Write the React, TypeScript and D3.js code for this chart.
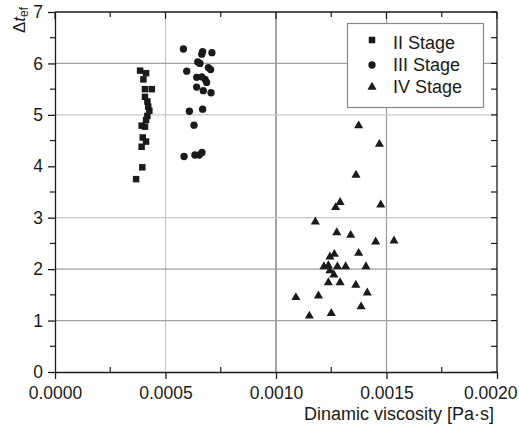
import React, { useEffect, useRef } from "react";
import * as d3 from "d3";

// II Stage (squares): [viscosity Pa·s, delta t_ef]
const stage2 = [
  [0.000385, 5.86], [0.000412, 5.81], [0.0004, 5.69], [0.000407, 5.5], [0.000438, 5.5],
  [0.000407, 5.35], [0.000418, 5.26], [0.000422, 5.16], [0.000427, 5.08], [0.000418, 4.98],
  [0.000412, 4.9], [0.000392, 4.79], [0.000407, 4.77], [0.000397, 4.56], [0.000412, 4.48],
  [0.000392, 4.38], [0.000395, 3.98], [0.000367, 3.75],
];

// III Stage (circles)
const stage3 = [
  [0.000581, 6.28], [0.000668, 6.23], [0.000664, 6.18], [0.00071, 6.21], [0.000646, 6.03],
  [0.000656, 6.0], [0.000596, 5.85], [0.000694, 5.92], [0.000704, 5.88], [0.000641, 5.73],
  [0.000664, 5.74], [0.000679, 5.69], [0.000686, 5.63], [0.000641, 5.54], [0.000671, 5.47],
  [0.000706, 5.43], [0.000608, 5.07], [0.000668, 5.11], [0.000629, 4.8], [0.000584, 4.19],
  [0.000633, 4.22], [0.000653, 4.22], [0.000665, 4.27],
];

// IV Stage (triangles)
const stage4 = [
  [0.001374, 4.79], [0.001468, 4.43], [0.001362, 3.83], [0.00129, 3.3], [0.00127, 3.2],
  [0.001474, 3.25], [0.001178, 2.92], [0.001275, 2.71], [0.001338, 2.66], [0.001451, 2.53],
  [0.001534, 2.55], [0.001264, 2.29], [0.001244, 2.24], [0.001374, 2.31], [0.001217, 2.05],
  [0.001237, 2.07], [0.001278, 2.05], [0.001315, 2.05], [0.001407, 2.05], [0.001244, 1.97],
  [0.001262, 1.89], [0.001237, 1.74], [0.00129, 1.74], [0.001361, 1.69], [0.001413, 1.54],
  [0.00109, 1.45], [0.001192, 1.48], [0.001385, 1.27], [0.001151, 1.09], [0.00125, 1.14],
];

const seriesNames = ["II Stage", "III Stage", "IV Stage"];

const xTicks = [0, 0.0005, 0.001, 0.0015, 0.002];
const xMinorTicks = [0.00025, 0.00075, 0.00125, 0.00175];
const yTicks = [0, 1, 2, 3, 4, 5, 6, 7];
const yMinorTicks = [0.5, 1.5, 2.5, 3.5, 4.5, 5.5, 6.5];

// grid lines visible in the picture
const xGrid = [0.0005, 0.001, 0.0015];
const yGrid = [1, 2, 3, 5, 6];

export default function App() {
  const ref = useRef<SVGSVGElement>(null);

  useEffect(() => {
    const svg = d3.select(ref.current);
    svg.selectAll("*").remove();

    const W = 519, H = 428;
    const left = 55, right = 497, top = 12, bottom = 372;

    const x = d3.scaleLinear().domain([0, 0.002]).range([left, right]);
    const y = d3.scaleLinear().domain([0, 7]).range([bottom, top]);

    svg.attr("width", W).attr("height", H);
    svg.append("rect").attr("width", W).attr("height", H).attr("fill", "#fff");

    const font = "'Liberation Sans', Arial, sans-serif";
    const ink = "#1a1a1a";

    // grid
    const xGridColor: Record<string, string> = { "0.0005": "#c8c8c8", "0.001": "#666", "0.0015": "#9a9a9a" };
    svg.append("g").selectAll("line").data(xGrid).join("line")
      .attr("x1", d => x(d)).attr("x2", d => x(d))
      .attr("y1", top).attr("y2", bottom)
      .attr("stroke", d => xGridColor[String(d)] || "#aaa")
      .attr("stroke-width", 1.2);
    svg.append("g").selectAll("line").data(yGrid).join("line")
      .attr("x1", left).attr("x2", right)
      .attr("y1", d => y(d)).attr("y2", d => y(d))
      .attr("stroke", d => (d === 5 || d === 3 ? "#c8c8c8" : "#a0a0a0"))
      .attr("stroke-width", 1.2);

    // axes: bottom (major out, minor in)
    const axB = svg.append("g").attr("transform", `translate(0,${bottom})`)
      .call(d3.axisBottom(x).tickValues(xTicks).tickSize(7).tickSizeOuter(0)
        .tickFormat(d => d3.format(".4f")(d as number)));
    axB.selectAll("text").attr("font-size", 17.5).attr("font-family", font).attr("fill", ink).attr("dy", "0.95em");
    axB.selectAll("line, path").attr("stroke", ink).attr("stroke-width", 1.3);
    // last label pulled inside the page
    axB.selectAll<SVGTextElement, number>("text")
      .filter(d => d === 0.002)
      .attr("text-anchor", "end").attr("x", 20);
    svg.append("g").selectAll("line").data(xMinorTicks).join("line")
      .attr("x1", d => x(d)).attr("x2", d => x(d))
      .attr("y1", bottom).attr("y2", bottom - 5)
      .attr("stroke", ink).attr("stroke-width", 1.2);

    // left axis (outward ticks)
    const axL = svg.append("g").attr("transform", `translate(${left},0)`)
      .call(d3.axisLeft(y).tickValues(yTicks).tickSize(7).tickSizeOuter(0).tickPadding(5)
        .tickFormat(d3.format("d")));
    axL.selectAll("text").attr("font-size", 17.5).attr("font-family", font).attr("fill", ink);
    axL.selectAll("line, path").attr("stroke", ink).attr("stroke-width", 1.3);
    svg.append("g").selectAll("line").data(yMinorTicks).join("line")
      .attr("x1", left - 5).attr("x2", left)
      .attr("y1", d => y(d)).attr("y2", d => y(d))
      .attr("stroke", ink).attr("stroke-width", 1.2);

    // right axis (inward ticks)
    svg.append("line").attr("x1", right).attr("x2", right).attr("y1", top).attr("y2", bottom)
      .attr("stroke", ink).attr("stroke-width", 1.3);
    svg.append("g").selectAll("line").data(yTicks.concat(yMinorTicks)).join("line")
      .attr("x1", right - 6).attr("x2", right)
      .attr("y1", d => y(d)).attr("y2", d => y(d))
      .attr("stroke", ink).attr("stroke-width", 1.2);

    // top axis (inward ticks)
    svg.append("line").attr("x1", left).attr("x2", right).attr("y1", top).attr("y2", top)
      .attr("stroke", ink).attr("stroke-width", 1.3);
    svg.append("g").selectAll("line").data(xTicks.concat(xMinorTicks)).join("line")
      .attr("x1", d => x(d)).attr("x2", d => x(d))
      .attr("y1", top).attr("y2", d => top + (xTicks.includes(d) ? 7 : 5))
      .attr("stroke", ink).attr("stroke-width", 1.2);

    // markers
    const shapes = [d3.symbolSquare, d3.symbolCircle, d3.symbolTriangle];
    const sizes = [42, 42, 36];
    [stage2, stage3, stage4].forEach((data, i) => {
      svg.append("g").selectAll("path").data(data).join("path")
        .attr("transform", d => `translate(${x(d[0])},${y(d[1])})`)
        .attr("d", d3.symbol().type(shapes[i]).size(sizes[i])())
        .attr("fill", ink);
    });

    // legend
    const lg = svg.append("g");
    lg.append("rect").attr("x", 347.5).attr("y", 23.5).attr("width", 136).attr("height", 84)
      .attr("fill", "#fff").attr("stroke", "#8a8a8a").attr("stroke-width", 1.2);
    const rowY = [43, 65, 87];
    seriesNames.forEach((name, i) => {
      lg.append("path")
        .attr("transform", `translate(372,${rowY[i] - (i === 0 ? 3 : 0)})`)
        .attr("d", d3.symbol().type(shapes[i]).size(sizes[i])())
        .attr("fill", ink);
      lg.append("text").attr("x", 393).attr("y", rowY[i] + 6)
        .attr("font-size", 18).attr("font-family", font).attr("fill", ink)
        .text(name);
    });

    // axis titles
    svg.append("text").attr("x", 494).attr("y", 420).attr("text-anchor", "end")
      .attr("font-size", 18).attr("font-family", font).attr("fill", ink)
      .text("Dinamic viscosity [Pa·s]");

    const yl = svg.append("text")
      .attr("transform", "translate(25,20) rotate(-90)")
      .attr("text-anchor", "middle")
      .attr("font-size", 17).attr("font-family", font).attr("fill", ink);
    yl.append("tspan").text("Δ");
    yl.append("tspan").attr("font-style", "italic").text("t");
    yl.append("tspan").attr("font-size", 12).attr("dy", 3).text("ef");
  }, []);

  return (
    <div>
      <svg ref={ref} style={{ position: "absolute", left: 0, top: 0 }}></svg>
    </div>
  );
}
